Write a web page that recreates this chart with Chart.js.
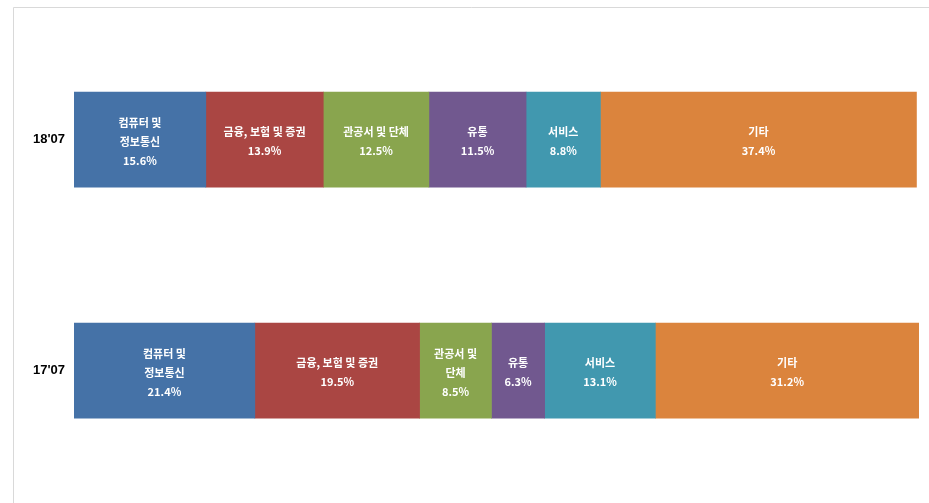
<!DOCTYPE html>
<html>
<head>
<meta charset="utf-8">
<script src="https://cdn.jsdelivr.net/npm/chart.js@4/dist/chart.umd.min.js"></script>
<style>
  html, body { margin: 0; padding: 0; background: #fff; }
  #wrap { position: relative; width: 929px; height: 503px; }
</style>
</head>
<body>
<div id="wrap"><canvas id="chart_sectorShare"></canvas></div>
<script>
// periods (rows) and sectors (stack segments)
const categories = ["18'07", "17'07"];
const sectors = ['컴퓨터 및 정보통신', '금융, 보험 및 증권', '관공서 및 단체', '유통', '서비스', '기타'];
const colors = ['#4572A7', '#AA4643', '#89A54E', '#71588F', '#4198AF', '#DB843D'];

// share in percent, per period
const share1807 = [15.6, 13.9, 12.5, 11.5, 8.8, 37.4];
const share1707 = [21.4, 19.5, 8.5, 6.3, 13.1, 31.2];

// label lines shown inside each segment
const labels1807 = [['컴퓨터 및', '정보통신'], ['금융, 보험 및 증권'], ['관공서 및 단체'], ['유통'], ['서비스'], ['기타']];
const labels1707 = [['컴퓨터 및', '정보통신'], ['금융, 보험 및 증권'], ['관공서 및', '단체'], ['유통'], ['서비스'], ['기타']];

const labelLines = [labels1807, labels1707];

const datasets = sectors.map(function(name, i) {
  return {
    label: name,
    data: [share1807[i], share1707[i]],
    backgroundColor: colors[i],
    borderWidth: 0,
    barThickness: 95
  };
});

var chart_sectorShare = new Chart(document.getElementById('chart_sectorShare'), {
  type: 'bar',
  data: {
    labels: categories,
    datasets: datasets
  },
  options: {
    indexAxis: 'y',
    animation: false,
    responsive: true,
    maintainAspectRatio: false,
    layout: {
      padding: { left: 0, right: 10, top: 24, bottom: 16 }
    },
    plugins: {
      legend: { display: false },
      tooltip: { enabled: false }
    },
    scales: {
      x: {
        stacked: true,
        min: 0,
        max: 100,
        display: false
      },
      y: {
        stacked: true,
        grid: { display: false, drawTicks: false },
        border: { display: false },
        ticks: {
          color: '#000',
          padding: 9,
          font: { family: 'Arial, "Liberation Sans", sans-serif', size: 13, weight: 'bold' }
        },
        afterFit: function(scale) {
          scale.width = 74;
        }
      }
    }
  },
  plugins: [{
    id: 'customPlugin',
    beforeDraw: (chart, args, options) => {
      const ctx = chart.canvas.getContext('2d');
      ctx.save();
      ctx.globalCompositeOperation = 'destination-over';
      ctx.fillStyle = 'white';
      ctx.fillRect(0, 0, chart.canvas.width, chart.canvas.height);
      ctx.restore();
      // frame
      ctx.save();
      ctx.strokeStyle = '#d9d9d9';
      ctx.lineWidth = 1;
      ctx.beginPath();
      ctx.moveTo(13.5, 510);
      ctx.lineTo(13.5, 7.5);
      ctx.lineTo(929, 7.5);
      ctx.stroke();
      ctx.restore();
    }
  }, {
    id: 'segmentLabels',
    afterDatasetsDraw: (chart) => {
      const ctx = chart.ctx;
      ctx.save();
      ctx.fillStyle = '#fff';
      ctx.textAlign = 'center';
      ctx.textBaseline = 'middle';
      ctx.font = 'bold 11px "Noto Sans CJK KR", sans-serif';
      const lineH = 19;
      chart.data.datasets.forEach(function(ds, di) {
        const meta = chart.getDatasetMeta(di);
        meta.data.forEach(function(bar, ri) {
          const lines = labelLines[ri][di].concat([ds.data[ri].toFixed(1) + '%']);
          const cx = (bar.x + bar.base) / 2;
          const top = bar.y + 2 - (lines.length - 1) * lineH / 2;
          lines.forEach(function(t, li) {
            ctx.fillText(t, cx, top + li * lineH);
          });
        });
      });
      ctx.restore();
    }
  }]
});
</script>
</body>
</html>
